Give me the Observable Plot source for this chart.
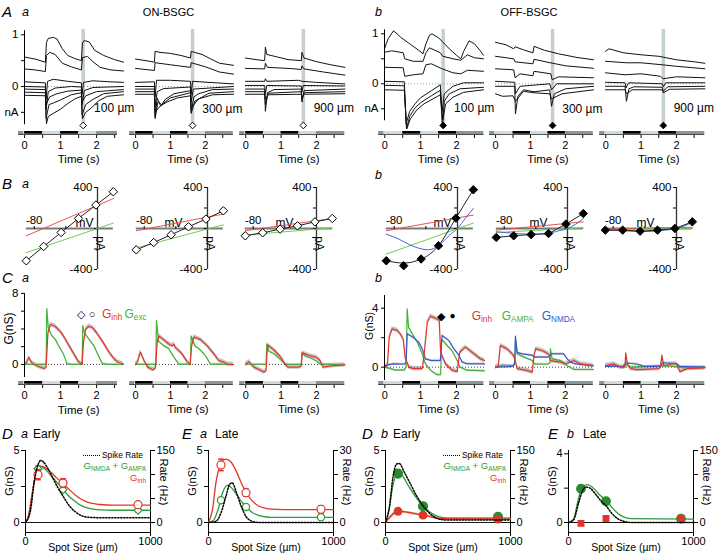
<!DOCTYPE html>
<html><head><meta charset="utf-8">
<script src="https://cdn.jsdelivr.net/npm/d3@7"></script>
<script src="https://cdn.jsdelivr.net/npm/@observablehq/plot@0.6"></script>
<style>
html,body{margin:0;padding:0;background:#fff;}
#fig{position:relative;width:720px;height:555px;overflow:hidden;background:#fff;font-family:"Liberation Sans",Arial,Helvetica,sans-serif;color:#000;}
.lbl{position:absolute;white-space:nowrap;line-height:1;}
.lbl sub{font-size:0.68em;vertical-align:-0.3em;line-height:0;}
</style></head>
<body><div id="fig"></div>
<script>
const FONT = '"Liberation Sans", Arial, Helvetica, sans-serif';
const RED = "#e3342a", GREEN = "#3fb534", BLUE = "#3a58d2", DGREEN = "#2f9a38";
const BRED = "#e8544a", BGREEN = "#6ccb52", BBLUE = "#4a62d8";

// ================= DATA =================
const spotLabels = ["100 µm", "300 µm", "900 µm"];
const stimON = [[0, 0.5], [1, 1.5]];
const stimOFF = [[0.5, 1], [1.5, 2]];
const probeTime = 1.63;
const timeTicks = [0, 0.5, 1, 1.5, 2, 2.5];
const holdingMV = [-90, -68, -46, -24, -2, 20];
const ivRange = [-90, 20];
const spotSizes = [100, 300, 900];

// ---- Panel A: membrane currents (nA), [time s, current] ----
const A_on_100 = [
 [[0,0.57],[0.3,0.53],[0.58,0.47],[0.61,0.85],[0.66,0.93],[0.8,0.95],[0.9,0.92],[1.05,0.73],[1.2,0.6],[1.4,0.54],[1.58,0.5],[1.61,0.84],[1.66,0.89],[1.8,0.86],[1.95,0.7],[2.2,0.6],[2.5,0.52],[2.75,0.47]],
 [[0,0.34],[0.3,0.32],[0.58,0.29],[0.61,0.6],[0.7,0.66],[0.85,0.62],[1.05,0.45],[1.3,0.38],[1.58,0.32],[1.61,0.56],[1.75,0.58],[1.9,0.48],[2.1,0.37],[2.4,0.32],[2.75,0.3]],
 [[0,0.09],[0.58,0.07],[0.6,-0.25],[0.64,0.1],[0.8,0.14],[1.2,0.1],[1.58,0.07],[1.6,-0.15],[1.64,0.08],[1.9,0.11],[2.4,0.09],[2.75,0.08]],
 [[0,0],[0.58,-0.01],[0.6,-0.45],[0.66,-0.1],[0.85,-0.03],[1.3,0],[1.58,-0.01],[1.6,-0.35],[1.66,-0.08],[1.9,-0.02],[2.75,0]],
 [[0,-0.05],[0.58,-0.06],[0.6,-0.35],[0.7,-0.2],[0.9,-0.14],[1.2,-0.09],[1.58,-0.07],[1.6,-0.3],[1.7,-0.18],[2.0,-0.1],[2.75,-0.06]],
 [[0,-0.11],[0.58,-0.12],[0.6,-0.62],[0.68,-0.35],[0.8,-0.32],[1.0,-0.26],[1.3,-0.16],[1.58,-0.12],[1.6,-0.55],[1.7,-0.35],[1.9,-0.25],[2.2,-0.14],[2.75,-0.1]],
 [[0,-0.17],[0.58,-0.18],[0.61,-0.72],[0.66,-0.58],[0.8,-0.52],[1.0,-0.44],[1.2,-0.33],[1.4,-0.24],[1.58,-0.19],[1.61,-0.62],[1.7,-0.5],[1.85,-0.42],[2.05,-0.28],[2.3,-0.19],[2.75,-0.16]]
];
const A_on_300 = [
 [[0,0.53],[0.3,0.5],[0.54,0.47],[0.56,0.68],[0.7,0.66],[1.0,0.64],[1.3,0.6],[1.57,0.55],[1.59,0.68],[1.9,0.62],[2.1,0.55],[2.4,0.45],[2.8,0.41]],
 [[0,0.35],[0.54,0.31],[0.56,0.46],[1.0,0.42],[1.57,0.37],[1.59,0.46],[2.0,0.38],[2.4,0.28],[2.8,0.24]],
 [[0,0.08],[0.54,0.09],[0.56,-0.2],[0.6,0.12],[1.0,0.12],[1.57,0.1],[1.59,-0.15],[1.63,0.1],[2.8,0.05]],
 [[0,0],[0.54,0],[0.56,-0.4],[0.62,-0.1],[0.8,-0.04],[1.57,-0.01],[1.59,-0.3],[1.65,-0.05],[2.8,0]],
 [[0,-0.05],[0.54,-0.05],[0.56,-0.58],[0.62,-0.22],[0.72,-0.38],[0.85,-0.25],[1.1,-0.14],[1.57,-0.08],[1.59,-0.48],[1.67,-0.2],[1.8,-0.14],[2.2,-0.06],[2.8,-0.05]],
 [[0,-0.1],[0.54,-0.1],[0.56,-0.62],[0.64,-0.3],[0.75,-0.35],[1.0,-0.22],[1.57,-0.12],[1.59,-0.52],[1.7,-0.28],[2.1,-0.13],[2.8,-0.1]],
 [[0,-0.15],[0.54,-0.15],[0.56,-0.5],[0.7,-0.38],[0.9,-0.3],[1.2,-0.22],[1.57,-0.18],[1.59,-0.42],[1.8,-0.24],[2.2,-0.16],[2.8,-0.15]]
];
const A_on_900 = [
 [[0,0.55],[0.3,0.52],[0.54,0.5],[0.56,0.76],[0.6,0.62],[0.9,0.57],[1.2,0.52],[1.57,0.5],[1.59,0.66],[1.65,0.55],[2.0,0.48],[2.4,0.42],[2.8,0.37]],
 [[0,0.35],[0.54,0.34],[0.56,0.45],[0.62,0.37],[1.2,0.35],[1.57,0.33],[1.59,0.4],[1.65,0.34],[2.2,0.28],[2.8,0.22]],
 [[0,0.1],[0.54,0.1],[0.56,0.15],[0.6,0.1],[1.5,0.12],[1.59,0.1],[2.0,0.08],[2.8,0.05]],
 [[0,0.02],[0.54,0.02],[0.56,-0.15],[0.6,0.02],[1.57,0.01],[1.59,-0.1],[1.63,0.02],[2.8,0.01]],
 [[0,-0.05],[0.54,-0.05],[0.56,-0.48],[0.62,-0.12],[0.8,-0.06],[1.57,-0.05],[1.59,-0.3],[1.65,-0.08],[2.8,-0.05]],
 [[0,-0.1],[0.54,-0.1],[0.56,-0.35],[0.64,-0.13],[1.57,-0.1],[1.59,-0.25],[1.66,-0.12],[2.8,-0.1]],
 [[0,-0.15],[0.54,-0.15],[0.56,-0.25],[0.64,-0.16],[1.57,-0.15],[1.59,-0.2],[1.66,-0.15],[2.8,-0.14]]
];
const A_off_100 = [
 [[0,0.7],[0.1,0.9],[0.25,1.06],[0.35,1.0],[0.45,0.93],[0.7,0.8],[0.95,0.67],[1.07,0.6],[1.15,0.8],[1.25,0.97],[1.32,1.0],[1.5,0.92],[1.6,0.85],[1.8,0.7],[2.0,0.57],[2.12,0.5],[2.2,0.65],[2.35,0.86],[2.5,0.8],[2.65,0.67],[2.75,0.57]],
 [[0,0.63],[0.2,0.66],[0.52,0.62],[0.56,0.5],[0.8,0.45],[1.07,0.45],[1.15,0.62],[1.25,0.72],[1.55,0.62],[1.62,0.55],[1.9,0.5],[2.12,0.47],[2.3,0.58],[2.5,0.52],[2.75,0.5]],
 [[0,0.33],[0.52,0.32],[0.56,0.15],[0.8,0.18],[1.07,0.2],[1.15,0.38],[1.3,0.4],[1.6,0.3],[1.9,0.22],[2.12,0.2],[2.3,0.27],[2.75,0.25]],
 [[0,0.05],[0.55,0.04],[0.6,-0.8],[0.7,-0.55],[0.85,-0.4],[1.0,-0.28],[1.3,-0.14],[1.55,-0.02],[1.6,-0.55],[1.66,-0.2],[1.9,-0.05],[2.2,0.02],[2.75,0.02]],
 [[0,-0.03],[0.55,-0.04],[0.61,-0.9],[0.7,-0.65],[0.85,-0.48],[1.0,-0.38],[1.3,-0.24],[1.55,-0.13],[1.61,-0.88],[1.66,-0.35],[1.8,-0.2],[2.1,-0.1],[2.75,-0.07]],
 [[0,-0.12],[0.55,-0.13],[0.62,-0.9],[0.72,-0.7],[0.9,-0.52],[1.1,-0.4],[1.35,-0.3],[1.55,-0.22],[1.62,-0.72],[1.7,-0.4],[1.9,-0.27],[2.2,-0.17],[2.75,-0.12]]
];
const A_off_300 = [
 [[0,0.83],[0.3,0.78],[0.52,0.7],[0.56,0.74],[0.8,0.68],[1.07,0.62],[1.1,0.75],[1.4,0.67],[1.8,0.6],[2.3,0.53],[2.8,0.48]],
 [[0,0.55],[0.52,0.5],[0.56,0.44],[1.07,0.4],[1.1,0.49],[1.5,0.43],[2.0,0.36],[2.8,0.31]],
 [[0,0.3],[0.52,0.28],[0.56,0.12],[0.7,0.2],[1.07,0.16],[1.1,0.25],[1.58,0.2],[1.62,0.08],[1.8,0.14],[2.8,0.12]],
 [[0,0.05],[0.55,0.03],[0.57,-0.2],[0.7,-0.05],[1.55,0],[1.6,-0.12],[1.75,0],[2.8,0]],
 [[0,-0.05],[0.55,-0.05],[0.57,-0.6],[0.64,-0.25],[0.8,-0.12],[1.1,-0.16],[1.55,-0.12],[1.6,-0.45],[1.68,-0.2],[2.0,-0.1],[2.8,-0.05]],
 [[0,-0.2],[0.2,-0.25],[0.5,-0.24],[0.57,-0.35],[0.8,-0.15],[1.1,-0.18],[1.55,-0.2],[1.6,-0.3],[1.9,-0.2],[2.8,-0.12]]
];
const A_off_900 = [
 [[0,0.65],[0.1,0.7],[0.5,0.62],[1.0,0.58],[1.5,0.55],[2.0,0.48],[2.5,0.44],[2.8,0.41]],
 [[0,0.45],[0.6,0.42],[1.0,0.42],[1.6,0.38],[2.0,0.35],[2.8,0.3]],
 [[0,0.22],[0.55,0.18],[1.0,0.2],[1.55,0.15],[1.62,0.1],[2.0,0.14],[2.8,0.12]],
 [[0,0.03],[0.55,0.02],[0.58,-0.08],[0.65,0.02],[1.6,0],[1.63,-0.06],[1.7,0.02],[2.8,0.02]],
 [[0,-0.05],[0.55,-0.05],[0.59,-0.35],[0.66,-0.1],[0.8,-0.06],[1.6,-0.07],[1.63,-0.15],[1.75,-0.06],[2.8,-0.05]],
 [[0,-0.12],[0.55,-0.12],[0.6,-0.2],[0.75,-0.12],[1.6,-0.12],[1.63,-0.18],[1.8,-0.11],[2.8,-0.1]]
];

// ---- Panel B: I-V (pA at holdingMV) ----
const B_on_I = [[-315,-175,-39,98,229,358],[-208,-137,-61,17,92,173],[-71,-42,-6,26,65,98]];
const B_on_red = [[-71,292],[-22,141],[-22,98]];     // at ivRange ends
const B_on_green = [[-236,53],[-190,36],[-64,7]];
const B_off_I = [[-315,-363,-298,-168,101,378],[-87,-71,-59,-49,43,146],[-16,-16,-26,-16,0,65]];
const B_off_fit1 = [[-90,-315],[-68,-337],[-46,-298],[-35,-250],[-24,-168],[-13,-40],[-2,101],[9,240],[20,378]];
const B_off_red = [[-22,131],[-16,65],[-5,12]];
const B_off_green = [[-250,53],[-39,7],[-12,2]];
const B_off_blue = [
 [[-90,-55],[-75,-100],[-60,-160],[-45,-200],[-37,-208],[-30,-195],[-20,-140],[-10,-65],[0,0],[10,100],[20,195]],
 [[-90,-32],[-70,-45],[-50,-55],[-35,-55],[-20,-40],[-10,-20],[0,0],[10,40],[20,98]],
 [[-90,-10],[-60,-25],[-40,-30],[-20,-20],[0,0],[10,25],[20,60]]
];

// ---- Panel C: conductances (nS), [time s, G] ----
const C_on_100_inh = [[0,0],[0.06,0.2],[0.12,0.8],[0.2,0.2],[0.35,-0.15],[0.55,-0.45],[0.6,-0.3],[0.65,3.5],[0.72,4.5],[0.85,4.3],[1.0,3.7],[1.1,3.1],[1.2,2.4],[1.3,1.7],[1.4,1.0],[1.5,0.3],[1.6,0],[1.64,2.5],[1.7,4.0],[1.8,4.3],[1.9,4.1],[2.0,3.6],[2.1,3.0],[2.2,2.4],[2.3,1.7],[2.4,1.1],[2.5,0.6],[2.6,0.25],[2.75,0.05]];
const C_on_100_exc = [[0,0],[0.6,0],[0.62,6.3],[0.66,4.2],[0.75,3.3],[0.86,2.8],[0.95,2.1],[1.05,1.4],[1.1,1.0],[1.18,0.1],[1.3,0],[1.6,0],[1.62,4.4],[1.66,3.6],[1.78,2.9],[1.93,2.1],[2.02,1.3],[2.16,0.1],[2.3,0],[2.75,0]];
const C_on_300_inh = [[0,0],[0.06,0.3],[0.14,1.4],[0.25,0.4],[0.35,-0.3],[0.5,-0.6],[0.57,-0.4],[0.62,2.5],[0.67,3.2],[0.8,2.8],[0.95,2.3],[1.05,2.1],[1.1,2.3],[1.14,1.9],[1.2,1.7],[1.33,1.2],[1.48,0.3],[1.56,0],[1.6,2.0],[1.67,3.1],[1.86,2.8],[2.05,2.1],[2.24,1.2],[2.38,0.45],[2.5,0.3],[2.62,0.05],[2.8,0]];
const C_on_300_exc = [[0,0],[0.58,0],[0.6,4.95],[0.66,2.6],[0.81,2.1],[0.95,1.8],[1.1,0.8],[1.24,0.05],[1.57,0],[1.59,3.2],[1.7,2.1],[1.86,1.6],[2.0,1.0],[2.14,0.05],[2.8,0]];
const C_on_900_inh = [[0,0],[0.1,0.3],[0.24,-0.3],[0.52,-0.85],[0.58,-0.7],[0.62,2.2],[0.81,1.6],[1.0,0.8],[1.11,0.05],[1.2,-0.3],[1.5,-0.3],[1.57,-0.2],[1.6,1.3],[1.8,1.0],[2.0,0.8],[2.1,0.45],[2.19,-0.3],[2.4,-0.15],[2.8,-0.05]];
const C_on_900_exc = [[0,0],[0.58,0],[0.6,2.3],[0.66,1.5],[0.8,1.2],[0.95,0.7],[1.1,0.1],[1.2,0],[1.57,0],[1.59,1.3],[1.7,0.9],[1.85,0.7],[2.0,0.4],[2.1,0.05],[2.8,0]];
const C_off_100_inh = [[0,0],[0.08,0.1],[0.13,2.0],[0.21,2.6],[0.35,2.5],[0.44,2.26],[0.52,1.9],[0.58,0.6],[0.68,0],[0.8,-0.1],[1.05,-0.1],[1.09,0.6],[1.19,3.05],[1.28,3.46],[1.42,3.3],[1.52,3.2],[1.56,1.0],[1.7,0.22],[1.88,-0.2],[2.02,-0.3],[2.09,1.0],[2.25,1.36],[2.44,1.0],[2.67,0.56],[2.78,0.45]];
const C_off_100_ampa = [[0,0],[0.15,-0.1],[0.3,-0.2],[0.55,-0.2],[0.6,0],[0.63,3.95],[0.67,2.7],[0.77,2.26],[0.91,1.7],[1.05,0.9],[1.14,0.22],[1.28,-0.22],[1.46,-0.52],[1.56,-0.5],[1.59,1.9],[1.74,1.47],[1.88,1.1],[2.02,0.45],[2.1,0],[2.3,-0.22],[2.78,-0.25]];
const C_off_100_nmda = [[0,0.1],[0.25,0.22],[0.55,0.2],[0.6,0.3],[0.63,2.26],[0.81,2.0],[0.95,1.7],[1.05,1.24],[1.14,0.56],[1.3,0.45],[1.55,0.45],[1.6,2.15],[1.79,1.8],[1.93,1.24],[2.07,0.8],[2.16,0.34],[2.3,0.22],[2.78,0.22]];
const C_off_300_inh = [[0,0],[0.08,0.1],[0.14,1.47],[0.33,1.24],[0.48,0.9],[0.54,0.68],[0.62,-0.1],[0.9,-0.22],[1.05,-0.34],[1.1,0.8],[1.15,1.24],[1.33,1.13],[1.52,0.9],[1.57,0.45],[1.86,0.34],[2.0,0.22],[2.24,0.45],[2.43,0.22],[2.8,0.1]];
const C_off_300_ampa = [[0,0],[0.2,0.15],[0.5,0.1],[0.55,0.2],[0.57,1.9],[0.62,0.9],[0.81,0.68],[1.05,0.45],[1.12,0.2],[1.5,0.2],[1.56,0.3],[1.57,1.24],[1.62,0.56],[1.86,0.45],[2.05,0.1],[2.24,-0.16],[2.8,-0.16]];
const C_off_300_nmda = [[0,0],[0.5,0.05],[0.55,0.3],[0.57,2.1],[0.62,1.0],[0.75,0.9],[1.05,0.8],[1.12,0.68],[1.5,0.68],[1.6,0.9],[1.95,0.9],[2.05,0.56],[2.14,0.34],[2.28,0.22],[2.8,0.1]];
const C_off_900_inh = [[0,0.1],[0.24,0.22],[0.42,0],[0.55,0],[0.57,0.97],[0.62,0.2],[0.71,-0.1],[0.9,-0.16],[1.5,-0.1],[1.55,0],[1.59,0.8],[1.64,0.1],[1.86,0.22],[2.0,0.22],[2.1,-0.3],[2.3,-0.1],[2.8,-0.05]];
const C_off_900_ampa = [[0,0.05],[0.2,0.15],[0.5,0],[0.57,0.2],[0.7,0],[1.6,0.1],[1.9,0.05],[2.2,-0.05],[2.8,0]];
const C_off_900_nmda = [[0,0.05],[0.5,0.05],[0.57,0.3],[0.7,0.25],[0.9,0.2],[1.1,0.05],[1.55,0.05],[1.6,0.3],[2.0,0.25],[2.1,0.05],[2.8,0]];
const C_semON = 0.25, C_semOFF = 0.15;

// ---- Panels D/E: tuning vs spot size ----
const Da_inh = [3.32, 2.74, 1.24], Da_inhErr = [0.35, 0.3, 0.2];
const Da_exc = [3.73, 2.28, 0.85], Da_excErr = [0.2, 0.15, 0.1];
const Da_inhFit = [[0,0],[25,0.5],[50,1.8],[75,3.1],[100,3.7],[125,3.9],[150,3.85],[200,3.5],[250,3.1],[300,2.7],[350,2.3],[400,1.9],[450,1.6],[500,1.4],[600,1.25],[700,1.2],[1000,1.2]];
const Da_excFit = [[0,0],[25,0.5],[50,1.8],[75,3.1],[100,3.75],[125,3.9],[150,3.75],[200,3.3],[250,2.8],[300,2.3],[350,1.8],[400,1.45],[450,1.15],[500,1.0],[600,0.88],[700,0.85],[1000,0.85]];
const Da_rate = [[0,0],[40,25],[70,85],[100,120],[120,129],[140,127],[180,112],[220,92],[260,72],[300,55],[350,35],[400,22],[450,14],[500,11],[600,10],[1000,10]];
const Ea_inh = [4.0, 2.07, 0.92], Ea_inhErr = [0.4, 0.25, 0.25];
const Ea_exc = [1.54, 1.08, 0.37], Ea_excErr = [0.12, 0.1, 0.08];
const Ea_inhFit = [[0,0],[30,0.8],[60,2.8],[100,4.1],[140,4.4],[180,4.2],[220,3.6],[260,2.8],[300,2.1],[350,1.5],[400,1.15],[450,1.0],[500,0.93],[600,0.9],[1000,0.9]];
const Ea_excFit = [[0,0],[40,0.15],[80,1.0],[110,2.0],[150,2.58],[180,2.45],[220,2.0],[260,1.5],[300,1.1],[350,0.7],[400,0.5],[450,0.4],[500,0.36],[1000,0.35]];
const Ea_rate = [[0,0],[60,0.5],[100,4],[140,11],[170,16],[190,16.5],[220,13],[260,7],[300,2.5],[350,0.5],[400,0],[1000,0]];
const Db_exc = [3.39, 1.13, 0.39], Db_excErr = [0.25, 0.15, 0.1];
const Db_inh = [0.78, 0.51, 0.23], Db_inhErr = [0.18, 0.15, 0.12];
const Db_excFit = [[0,0],[30,1.0],[60,2.6],[100,3.4],[130,3.3],[180,2.6],[240,1.8],[300,1.15],[350,0.75],[400,0.5],[450,0.35],[500,0.3],[1000,0.3]];
const Db_inhLine = [[0,0],[100,0.78],[300,0.51],[450,0.26],[1000,0.24]];
const Db_inhSEM = 0.08;
const Db_rate = [[0,0],[30,30],[60,95],[90,122],[110,123],[150,105],[200,80],[250,55],[300,35],[350,20],[400,10],[450,6],[500,5],[1000,5]];
const Eb_exc = [1.97, 1.24, 0.22], Eb_excErr = [0.12, 0.1, 0.05];
const Eb_inh = [-0.05, 0.23, 0.25], Eb_inhErr = [0.03, 0.03, 0.03];
const Eb_excFit = [[0,0],[40,0.2],[80,1.4],[110,2.05],[150,2.2],[200,2.0],[250,1.6],[300,1.3],[350,0.85],[400,0.5],[450,0.3],[500,0.22],[1000,0.2]];
const Eb_rate = [[0,0],[40,5],[80,40],[110,65],[140,74],[170,72],[220,58],[270,42],[300,35],[350,18],[400,7],[450,2],[500,0],[1000,0]];

// ================= RENDER =================
const fig = document.getElementById("fig");
const X = d => d[0], Y = d => d[1];
function addPlot(box, opts, fs = 11.5) {
  const [x0, y0, x1, y1] = box;
  const svg = Plot.plot({
    width: x1 - x0, height: y1 - y0, margin: 0,
    style: {background: "transparent", overflow: "visible", fontFamily: FONT, fontSize: fs + "px", color: "#000"},
    ...opts
  });
  Object.assign(svg.style, {position: "absolute", left: x0 + "px", top: y0 + "px", maxWidth: "none", overflow: "visible", background: "transparent"});
  fig.appendChild(svg);
  return svg;
}
function sc(domain, px, origin) { return {type: "linear", domain, range: px.map(p => p - origin), axis: null}; }
function lbl(html, x, y, css = "", anchor = "left") {
  const d = document.createElement("div");
  d.className = "lbl"; d.innerHTML = html;
  d.style.cssText = `left:${x}px;top:${y}px;${css}`;
  d.style.transform = anchor === "center" ? "translate(-50%,-50%)" : anchor === "right" ? "translate(-100%,-50%)" : "translate(0,-50%)";
  fig.appendChild(d);
}

const BAR_START = -0.17;
function stimAxis(t0, pps, barEnd, stim, top, labelDy) {
  const H = 4, left = t0 + BAR_START * pps, right = t0 + barEnd * pps;
  addPlot([left, top, right, top + H], {
    x: sc([0, 2], [t0, t0 + 2 * pps], left),
    marks: [
      Plot.rect([[BAR_START, barEnd]], {x1: X, x2: Y, fill: "#d3dada"}),
      Plot.rect([[BAR_START, -0.03], [2, barEnd]], {x1: X, x2: Y, fill: "#8b9595"}),
      Plot.rect(stim, {x1: X, x2: Y, fill: "#000", insetBottom: 1.3}),
      Plot.rect([[BAR_START, barEnd]], {x1: X, x2: Y, fill: "#333", insetTop: H - 0.8}),
      Plot.axisX({anchor: "bottom", ticks: timeTicks.filter(t => t < barEnd), tickSize: 3, tickPadding: 2.5, label: null, fontSize: 11,
        tickFormat: d => Number.isInteger(d) ? String(d) : ""}),
      Plot.text(["Time (s)"], {text: d => d, frameAnchor: "bottom", textAnchor: "middle", dx: (1.5 - (BAR_START + barEnd) / 2) * pps, dy: labelDy, fontSize: 11.5})
    ]
  }, 11);
}

// ---- Panel A ----
const A_groups = [
  {t0: [24, 135, 245], pps: [36, 35, 35.5], zero: 86, one: 34.3, fill: "#fff", stim: stimON, barEnd: [2.58, 2.8, 2.8], traces: [A_on_100, A_on_300, A_on_900]},
  {t0: [384, 495, 605], pps: [36, 35, 35.5], zero: 83.3, one: 33.3, fill: "#000", stim: stimOFF, barEnd: [2.76, 2.8, 2.8], traces: [A_off_100, A_off_300, A_off_900]}
];
A_groups.forEach(G => {
  [0, 1, 2].forEach(j => {
    const t0 = G.t0[j], pps = G.pps[j];
    const top = 29, bottom = 124, left = t0, right = t0 + 2.8 * pps;
    const marks = [
      Plot.ruleX([probeTime], {stroke: "#c5cfcd", strokeWidth: 3.5}),
      Plot.ruleY([0], {stroke: "#888", strokeDasharray: "1,2", strokeWidth: 0.8}),
      ...G.traces[j].map(tr => Plot.line(tr, {x: X, y: Y, stroke: "#111", strokeWidth: 1})),
      Plot.dot([probeTime], {x: d => d, frameAnchor: "bottom", dy: 1, symbol: "diamond2", r: 3, stroke: "#000", strokeWidth: 1, fill: G.fill}),
      Plot.text([spotLabels[j]], {text: d => d, frameAnchor: "bottom-right", textAnchor: "end", dx: 9, dy: -12, fontSize: 12})
    ];
    if (j === 0) marks.push(
      Plot.ruleX([0], {y1: -0.74, y2: 1.08, stroke: "#000", strokeWidth: 1}),
      Plot.axisY({anchor: "left", ticks: [1, 0.5, 0, -0.5], tickSize: 3, tickPadding: 3, label: null,
        tickFormat: d => d === 1 ? "1" : d === 0 ? "0" : d === -0.5 ? "nA" : ""})
    );
    addPlot([left, top, right, bottom], {x: sc([0, 2], [t0, t0 + 2 * pps], left), y: sc([0, 1], [G.zero, G.one], top), marks});
    stimAxis(t0, pps, G.barEnd[j], G.stim, 130.5, 27.5);
  });
});

// ---- Panel B ----
const B_px = [[97, 207, 316], [457, 567, 676]];
const B_mvDx = [[-4, -25, -23], [-6, -20, -22]];
function panelB(ax, mvDx, I, red, green, blue, fit, filled) {
  const top = 227.7, bottom = 270, left = ax, right = ax + 18;
  const marks = [
    Plot.ruleY([0], {x1: ivRange[0], x2: ivRange[1], stroke: "#7a7a7a", strokeWidth: 2}),
    Plot.ruleX([0], {y1: -400, y2: 400, stroke: "#333", strokeWidth: 1.3}),
    Plot.axisY({anchor: "left", ticks: [-400, -200, 0, 200, 400], tickSize: 3, tickPadding: 2, label: null,
      tickFormat: d => Math.abs(d) === 400 ? String(d) : ""}),
    Plot.axisX({anchor: "top", ticks: [-80, -40], tickSize: 3, tickPadding: 2, label: null,
      tickFormat: d => d === -80 ? "-80" : ""}),
    Plot.text(["mV"], {text: d => d, frameAnchor: "top-left", textAnchor: "end", dx: mvDx, dy: -10, fontSize: 12}),
    Plot.text(["pA"], {text: d => d, frameAnchor: "top-left", textAnchor: "middle", rotate: 90, dx: 7.5, dy: 15, fontSize: 12}),
    Plot.line(ivRange.map((v, i) => [v, red[i]]), {x: X, y: Y, stroke: BRED, strokeWidth: 1}),
    Plot.line(ivRange.map((v, i) => [v, green[i]]), {x: X, y: Y, stroke: BGREEN, strokeWidth: 1})
  ];
  if (blue) marks.push(Plot.line(blue, {x: X, y: Y, stroke: BBLUE, strokeWidth: 1, curve: "monotone-x"}));
  const pts = holdingMV.map((v, i) => [v, I[i]]);
  marks.push(Plot.line(fit || pts, {x: X, y: Y, stroke: "#222", strokeWidth: 1, curve: fit ? "monotone-x" : "linear"}));
  marks.push(Plot.dot(pts, {x: X, y: Y, symbol: "diamond2", r: 3.8, stroke: "#000", strokeWidth: 1, fill: filled ? "#000" : "#fff"}));
  addPlot([left, top, right, bottom], {x: sc([-80, 0], [ax - 63.3, ax], left), y: sc([0, 400], [227.7, 186.7], top), marks});
}
[0, 1, 2].forEach(j => {
  panelB(B_px[0][j], B_mvDx[0][j], B_on_I[j], B_on_red[j], B_on_green[j], null, null, false);
  panelB(B_px[1][j], B_mvDx[1][j], B_off_I[j], B_off_red[j], B_off_green[j], B_off_blue[j], j === 0 ? B_off_fit1 : null, true);
});

// ---- Panel C ----
const C_groups = [
  {t0: [24, 135, 245], pps: [36, 35, 35.5], top: 293, bottom: 377, zero: 364, max: 8, maxPx: 292.9, ticks: [0, 2, 4, 6, 8], stim: stimON, barEnd: [2.58, 2.8, 2.8], gDy: -7, gFs: 12, sem: C_semON,
   series: [[[C_on_100_exc, GREEN], [C_on_100_inh, RED]], [[C_on_300_exc, GREEN], [C_on_300_inh, RED]], [[C_on_900_exc, GREEN], [C_on_900_inh, RED]]]},
  {t0: [384, 495, 605], pps: [36, 35, 35.5], top: 295, bottom: 380, zero: 366.7, max: 4, maxPx: 307.7, ticks: [0, 2, 4], stim: stimOFF, barEnd: [2.76, 2.8, 2.8], gDy: -12, gFs: 10.5, sem: C_semOFF,
   series: [[[C_off_100_ampa, GREEN], [C_off_100_nmda, BLUE], [C_off_100_inh, RED]], [[C_off_300_ampa, GREEN], [C_off_300_nmda, BLUE], [C_off_300_inh, RED]], [[C_off_900_ampa, GREEN], [C_off_900_nmda, BLUE], [C_off_900_inh, RED]]]}
];
C_groups.forEach(G => {
  [0, 1, 2].forEach(j => {
    const t0 = G.t0[j], pps = G.pps[j];
    const left = t0, right = t0 + 2.78 * pps;
    const ser = G.series[j];
    const marks = [
      ...ser.map(([d, c]) => Plot.areaY(d, {x: X, y1: p => p[1] - (c === RED ? G.sem : G.sem * 0.4), y2: p => p[1] + (c === RED ? G.sem : G.sem * 0.4), fill: "#c4c4c4"})),
      Plot.ruleY([0], {stroke: "#333", strokeDasharray: "1,2", strokeWidth: 0.9}),
      ...ser.map(([d, c]) => Plot.line(d, {x: X, y: Y, stroke: c, strokeWidth: 1.2}))
    ];
    if (j === 0) marks.push(
      Plot.ruleX([0], {stroke: "#000", strokeWidth: 1}),
      Plot.axisY({anchor: "left", ticks: G.ticks, tickSize: 3, tickPadding: 3, label: null,
        tickFormat: d => (d === 0 || d === G.max) ? String(d) : ""}),
      Plot.text(["G(nS)"], {text: d => d, frameAnchor: "left", textAnchor: "middle", rotate: -90, dx: -15, dy: G.gDy, fontSize: G.gFs})
    );
    addPlot([left, G.top, right, G.bottom], {x: sc([0, 2], [t0, t0 + 2 * pps], left), y: sc([0, G.max], [G.zero, G.maxPx], G.top), marks});
    stimAxis(t0, pps, G.barEnd[j], G.stim, 381, 28);
  });
});

// ---- Panels D/E ----
const capSym = {draw(ctx, size) { const w = Math.sqrt(size) / 2; ctx.moveTo(-w, 0); ctx.lineTo(w, 0); }};
function pointMarks(v, e, c, sym, fill, r) {
  const rows = spotSizes.map((s, i) => ({s, v: v[i], e: e[i]}));
  return [
    Plot.ruleX(rows, {x: "s", y1: d => d.v - d.e, y2: d => d.v + d.e, stroke: c, strokeWidth: 1}),
    Plot.dot(rows, {x: "s", y: d => d.v + d.e, symbol: capSym, r: 3.2, stroke: c, fill: "none"}),
    Plot.dot(rows, {x: "s", y: d => d.v - d.e, symbol: capSym, r: 3.2, stroke: c, fill: "none"}),
    Plot.dot(rows, {x: "s", y: "v", symbol: sym, r, stroke: c, fill, strokeWidth: 1.2})
  ];
}
function panelDE(cfg) {
  const {axL, axR, gMax, gTopPx, gTicks, rMax, rTicks, extra, fits, pts, rate} = cfg;
  const top = 450, zero = 522, bottom = 533, H = bottom - top;
  const x = sc([0, 1000], [axL, axR], axL);
  addPlot([axL, top, axR, bottom], {x, y: sc([0, gMax], [zero, gTopPx], top), marks: [
    Plot.ruleY([0], {stroke: "#000", strokeWidth: 0.9}),
    Plot.ruleX([0], {stroke: "#000"}),
    Plot.ruleX([1000], {stroke: "#000"}),
    Plot.rect([[0, 1000]], {x1: X, x2: Y, insetTop: H - 1, fill: "#000"}),
    Plot.axisX({anchor: "bottom", ticks: [0, 1000], tickSize: 3, tickPadding: 1, label: null, tickFormat: d => String(d)}),
    Plot.axisY({anchor: "left", ticks: gTicks, tickSize: 4, tickPadding: 2, label: null, tickFormat: d => (d === 0 || d === gMax) ? String(d) : ""}),
    Plot.text(["Spot Size (µm)"], {text: d => d, frameAnchor: "bottom", textAnchor: "middle", dx: -5, dy: 17, fontSize: 10.5}),
    Plot.text(["G(nS)"], {text: d => d, frameAnchor: "left", textAnchor: "middle", rotate: -90, dx: -16, dy: -11, fontSize: 11}),
    ...(extra || []),
    ...fits.map(([d, c]) => Plot.line(d, {x: X, y: Y, stroke: c, strokeWidth: 1.3, curve: "monotone-x"})),
    ...pts.flatMap(p => pointMarks(...p))
  ]}, 11);
  addPlot([axL, top, axR, bottom], {x, y: sc([0, rMax], [zero, 450], top), marks: [
    Plot.line(rate, {x: X, y: Y, stroke: "#000", strokeWidth: 1.5, strokeDasharray: "1.3,1.7", curve: "monotone-x"}),
    Plot.axisY({anchor: "right", ticks: rTicks, tickSize: 4, tickPadding: 2, label: null, tickFormat: d => (d === 0 || d === rMax) ? String(d) : ""}),
    Plot.text(["Rate (Hz)"], {text: d => d, frameAnchor: "right", textAnchor: "middle", rotate: 90, dx: 13, dy: -10, fontSize: 11})
  ]}, 11);
}
panelDE({axL: 25, axR: 150, gMax: 5, gTopPx: 450, gTicks: [0, 2.5, 5], rMax: 150, rTicks: [0, 50, 100, 150],
  fits: [[Da_excFit, DGREEN], [Da_inhFit, RED]], rate: Da_rate,
  pts: [[Da_exc, Da_excErr, DGREEN, "diamond2", "#fff", 3.6], [Da_inh, Da_inhErr, RED, "circle", "#fff", 4]]});
panelDE({axL: 208, axR: 333, gMax: 5, gTopPx: 450, gTicks: [0, 2.5, 5], rMax: 30, rTicks: [0, 10, 20, 30],
  fits: [[Ea_excFit, DGREEN], [Ea_inhFit, RED]], rate: Ea_rate,
  pts: [[Ea_exc, Ea_excErr, DGREEN, "circle", "#fff", 3.6], [Ea_inh, Ea_inhErr, RED, "circle", "#fff", 4]]});
panelDE({axL: 385, axR: 510, gMax: 5, gTopPx: 450, gTicks: [0, 2.5, 5], rMax: 150, rTicks: [0, 50, 100, 150],
  extra: [Plot.areaY(Db_inhLine, {x: X, y1: d => d[1] - Db_inhSEM, y2: d => d[1] + Db_inhSEM, fill: "#c09060", fillOpacity: 0.55})],
  fits: [[Db_excFit, DGREEN], [Db_inhLine, RED]], rate: Db_rate,
  pts: [[Db_exc, Db_excErr, "#2a8a32", "circle", "#2a8a32", 4.5], [Db_inh, Db_inhErr, RED, "circle", RED, 3.8]]});
panelDE({axL: 568, axR: 693, gMax: 4, gTopPx: 453.3, gTicks: [0, 2, 4], rMax: 150, rTicks: [0, 50, 100, 150],
  fits: [[Eb_excFit, DGREEN]], rate: Eb_rate,
  pts: [[Eb_exc, Eb_excErr, "#2a8a32", "circle", "#2a8a32", 4.3], [Eb_inh, Eb_inhErr, RED, "square", RED, 3.2]]});

// ---- Labels ----
const L = "font-size:15px;font-style:italic;", l = "font-size:12.5px;font-style:italic;";
lbl("A", 2, 11, L); lbl("a", 22, 12, l); lbl("ON-BSGC", 168.5, 12, "font-size:11px", "center");
lbl("b", 375, 12, l); lbl("OFF-BSGC", 529, 12, "font-size:11px", "center");
lbl("B", 2, 183, L); lbl("a", 22, 183.5, l); lbl("b", 375, 175, l);
lbl("C", 2, 277, L); lbl("a", 22, 277.5, l); lbl("b", 375, 277.5, l);
lbl("D", 2, 433, L); lbl("a", 21, 433.5, l); lbl("Early", 33, 433.5, "font-size:12px");
lbl("E", 182, 433, L); lbl("a", 200, 433.5, l); lbl("Late", 215, 433.5, "font-size:12px");
lbl("D", 362, 433, L); lbl("b", 381, 433.5, l); lbl("Early", 393, 433.5, "font-size:12px");
lbl("E", 548, 433, L); lbl("b", 567, 433.5, l); lbl("Late", 583, 433.5, "font-size:12px");
// C legends
lbl("◇", 81, 314, "font-size:11px", "center"); lbl("○", 92, 314, "font-size:11px", "center");
lbl("G<sub>inh</sub>", 102, 314, `font-size:12px;color:${RED}`);
lbl("G<sub>exc</sub>", 124.5, 314, `font-size:12px;color:${GREEN}`);
lbl("◆", 441, 315.7, "font-size:11px", "center"); lbl("●", 452.5, 315.7, "font-size:10px", "center");
lbl("G<sub>inh</sub>", 471.7, 315.7, `font-size:12px;color:${RED}`);
lbl("G<sub>AMPA</sub>", 501.7, 315.7, `font-size:12px;color:${GREEN}`);
lbl("G<sub>NMDA</sub>", 541.7, 315.7, `font-size:12px;color:${BLUE}`);
// D legends
[0, 360].forEach(o => {
  const d = document.createElement("div");
  d.style.cssText = `position:absolute;left:${83 + o}px;top:454.5px;width:17px;border-top:1.6px dotted #000;`;
  fig.appendChild(d);
  lbl("Spike Rate", 102 + o, 455, "font-size:8.4px");
  lbl("G<sub>NMDA</sub> + G<sub>AMPA</sub>", 146 + o, 466, `font-size:9.5px;color:${DGREEN}`, "right");
  lbl("G<sub>inh</sub>", 146 + o, 478, `font-size:9.5px;color:${RED}`, "right");
});
</script>
</body></html>
